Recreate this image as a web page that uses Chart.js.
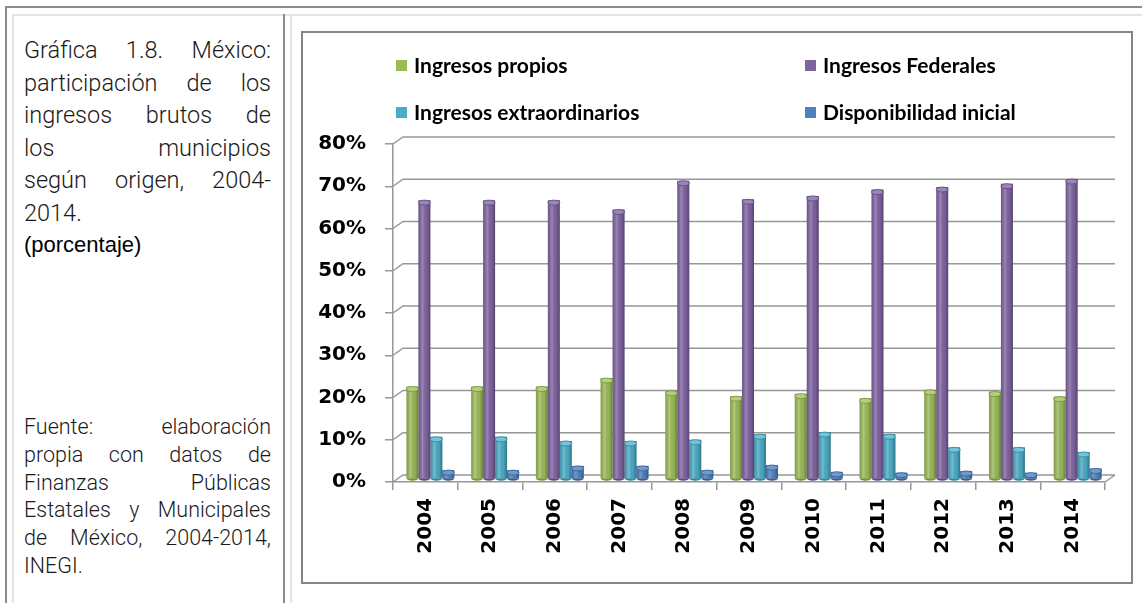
<!DOCTYPE html>
<html lang="es">
<head>
<meta charset="utf-8">
<title>Gráfica 1.8</title>
<script src="https://cdn.jsdelivr.net/npm/chart.js@4/dist/chart.umd.min.js"></script>
<style>
  html, body { margin: 0; padding: 0; background: #fff; }
  body { width: 1142px; height: 603px; position: relative; overflow: hidden; }
  .rule { position: absolute; }
  .dark { background: #8c8c8c; }
  .light { background: #e4e4e4; }
  #notes, #source {
    position: absolute; left: 24px; width: 247px;
    font-family: Roboto, "Liberation Sans", sans-serif; font-weight: 300; color: #1a1a1a;
  }
  #notes { top: 34px; font-size: 23.5px; line-height: 32.5px; }
  #source { top: 413px; font-size: 21.5px; line-height: 27.8px; }
  .j { text-align: justify; text-align-last: justify; white-space: nowrap; }
  .pct { font-family: "Liberation Sans", Arial, sans-serif; font-weight: 400; font-size: 22px; color: #000; }
  #box {
    position: absolute; left: 301px; top: 31px; width: 832px; height: 553px;
    border: 2px solid #858585; box-sizing: border-box;
  }
  #box canvas { display: block; }
</style>
</head>
<body>
<div class="rule dark" style="left:5px;top:6px;right:0;height:2px"></div>
<div class="rule dark" style="left:5px;top:6px;bottom:0;width:2px"></div>
<div class="rule light" style="left:12px;top:14px;right:0;height:2px"></div>
<div class="rule light" style="left:12px;top:14px;bottom:0;width:2px"></div>
<div class="rule dark" style="left:283px;top:14px;bottom:0;width:2px"></div>
<div class="rule light" style="left:290px;top:14px;bottom:0;width:2px"></div>

<div id="notes">
  <div class="j">Gráfica 1.8. México:</div>
  <div class="j">participación de los</div>
  <div class="j">ingresos brutos de</div>
  <div class="j">los municipios</div>
  <div class="j">según origen, 2004-</div>
  <div>2014.</div>
  <div class="pct">(porcentaje)</div>
</div>

<div id="source">
  <div class="j">Fuente: elaboración</div>
  <div class="j">propia con datos de</div>
  <div class="j">Finanzas Públicas</div>
  <div class="j">Estatales y Municipales</div>
  <div class="j">de México, 2004-2014,</div>
  <div>INEGI.</div>
</div>

<div id="box"><canvas id="ingresos" width="828" height="549"></canvas></div>

<script>
// Años y participación (%) de cada origen de ingreso
const years = ['2004', '2005', '2006', '2007', '2008', '2009', '2010', '2011', '2012', '2013', '2014'];
const seriesNames = ['Ingresos propios', 'Ingresos Federales', 'Ingresos extraordinarios', 'Disponibilidad inicial'];
const propios = [21.9, 21.9, 21.9, 23.9, 20.9, 19.6, 20.2, 19.1, 21.1, 20.7, 19.5];
const federales = [66.0, 66.0, 66.0, 63.8, 70.6, 66.2, 67.0, 68.5, 69.1, 69.9, 71.0];
const extraordinarios = [10.0, 10.0, 9.0, 9.0, 9.3, 10.6, 11.1, 10.6, 7.5, 7.5, 6.4];
const disponibilidad = [2.1, 2.1, 3.1, 3.1, 2.1, 3.3, 1.7, 1.5, 1.9, 1.5, 2.5];
const yTicks = [0, 10, 20, 30, 40, 50, 60, 70, 80];

const colors = ['#9bbb59', '#8064a2', '#4bacc6', '#4f81bd'];
const capColors = ['#b4cf7c', '#9a84b8', '#74c3d8', '#6f9ad0'];
const edgeColors = ['#76923c', '#5f497a', '#31859c', '#365f91'];

// profundidad de la pared del fondo y desplazamiento de las columnas
const WALL_X = 10, WALL_Y = -7;
const DEPTH_X = 5, DEPTH_Y = -3;
const GRID = '#979797';

const tickFont = { family: '"DejaVu Sans", Verdana, sans-serif', size: 20, weight: 'bold' };

// rejilla en perspectiva (pared del fondo + piso)
const wall3d = {
  id: 'wall3d',
  beforeDatasetsDraw(chart) {
    const { ctx, chartArea: { left, right } } = chart;
    const y = chart.scales.y;
    ctx.save();
    ctx.strokeStyle = GRID;
    ctx.lineWidth = 1.5;
    ctx.beginPath();
    y.ticks.forEach(t => {
      const py = y.getPixelForValue(t.value);
      ctx.moveTo(left, py);
      ctx.lineTo(left + WALL_X, py + WALL_Y);
      ctx.lineTo(right + WALL_X, py + WALL_Y);
    });
    const y0 = y.getPixelForValue(0);
    ctx.moveTo(right, y0);
    ctx.lineTo(right + WALL_X, y0 + WALL_Y);
    ctx.stroke();
    ctx.restore();
    // las columnas van un poco hacia el fondo
    ctx.save();
    ctx.translate(DEPTH_X, DEPTH_Y);
  },
  afterDatasetsDraw(chart) {
    const { ctx } = chart;
    chart.data.datasets.forEach((ds, i) => {
      chart.getDatasetMeta(i).data.forEach(bar => {
        const { x, y, base, width } = bar.getProps(['x', 'y', 'base', 'width'], true);
        const l = x - width / 2;
        const g = ctx.createLinearGradient(l, 0, l + width, 0);
        g.addColorStop(0, 'rgba(0,0,0,0.16)');
        g.addColorStop(0.35, 'rgba(255,255,255,0.22)');
        g.addColorStop(0.7, 'rgba(0,0,0,0.04)');
        g.addColorStop(1, 'rgba(0,0,0,0.32)');
        ctx.fillStyle = g;
        ctx.fillRect(l, y, width, base - y);
        // base redondeada
        ctx.beginPath();
        ctx.ellipse(x, base, width / 2, 2.5, 0, 0, Math.PI);
        ctx.fillStyle = edgeColors[i];
        ctx.fill();
        // tapa superior
        ctx.beginPath();
        ctx.ellipse(x, y + 2.5, width / 2, 2.5, 0, 0, Math.PI * 2);
        ctx.fillStyle = capColors[i];
        ctx.fill();
        ctx.strokeStyle = edgeColors[i];
        ctx.lineWidth = 0.8;
        ctx.stroke();
      });
    });
    ctx.restore();
  }
};

// leyenda en dos columnas
const gridLegend = {
  id: 'gridLegend',
  afterDraw(chart) {
    const { ctx } = chart;
    const cols = [93, 502], rows = [32, 79];
    ctx.save();
    ctx.font = 'bold 21px Lato, "Open Sans", sans-serif';
    ctx.textBaseline = 'middle';
    chart.data.datasets.forEach((ds, i) => {
      const cx = cols[i % 2], cy = rows[Math.floor(i / 2)];
      ctx.fillStyle = ds.backgroundColor;
      ctx.fillRect(cx, cy - 5, 11, 11);
      ctx.fillStyle = '#000';
      ctx.fillText(ds.label, cx + 18, cy + 1);
    });
    ctx.restore();
  }
};

const seriesData = [propios, federales, extraordinarios, disponibilidad];

new Chart(document.getElementById('ingresos').getContext('2d'), {
  type: 'bar',
  data: {
    labels: years,
    datasets: seriesNames.map((name, i) => ({
      label: name,
      data: seriesData[i],
      backgroundColor: colors[i],
      borderWidth: 0,
      categoryPercentage: 0.74,
      barPercentage: 1.0,
      clip: false
    }))
  },
  options: {
    responsive: false,
    animation: false,
    events: [],
    layout: { padding: { top: 111, right: 26, left: 0, bottom: 0 } },
    plugins: { legend: { display: false }, tooltip: { enabled: false } },
    scales: {
      x: {
        grid: { drawOnChartArea: false, tickLength: 8, color: GRID, lineWidth: 1.5, offset: true },
        border: { color: GRID, width: 1.5 },
        ticks: { minRotation: 90, maxRotation: 90, autoSkip: false, padding: 8, color: '#000', font: tickFont },
        afterFit: s => { s.height = 100; }
      },
      y: {
        min: 0,
        max: 80,
        afterBuildTicks: s => { s.ticks = yTicks.map(v => ({ value: v })); },
        grid: { drawOnChartArea: false, tickLength: 8, color: GRID, lineWidth: 1.5 },
        border: { color: GRID, width: 1.5 },
        ticks: { padding: 19, color: '#000', font: tickFont, callback: v => v + '%' },
        afterFit: s => { s.width = 90; }
      }
    }
  },
  plugins: [wall3d, gridLegend]
});
</script>
</body>
</html>
